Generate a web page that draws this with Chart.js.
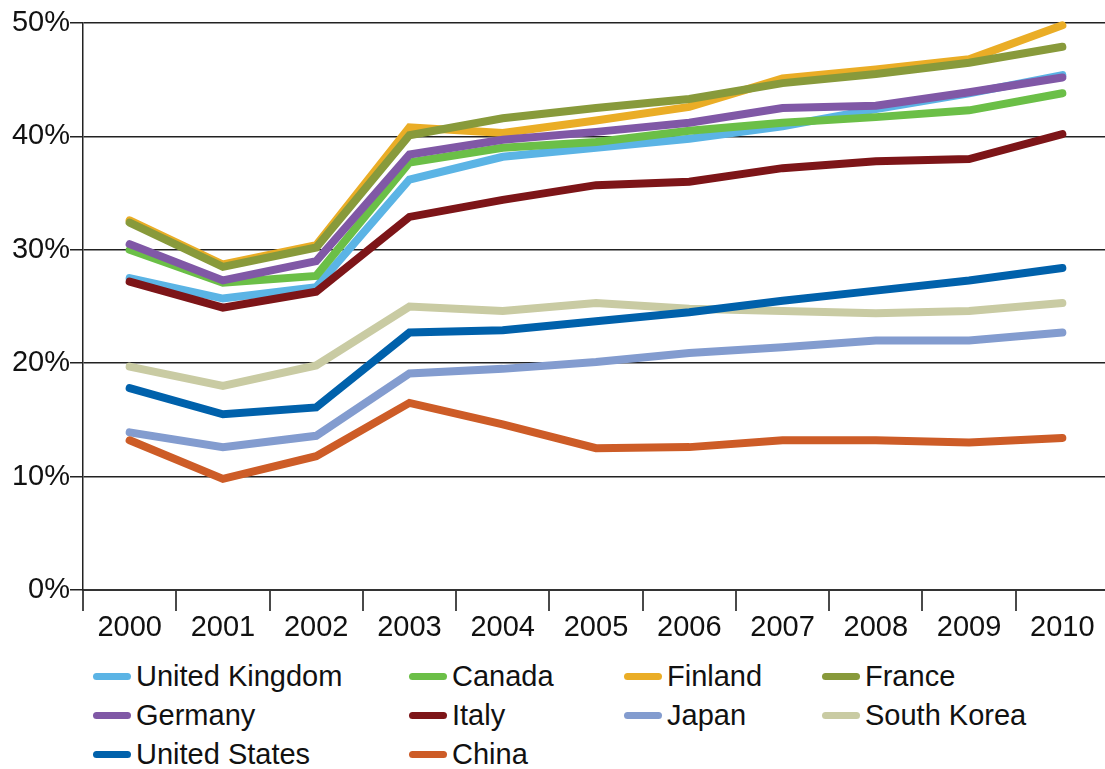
<!DOCTYPE html>
<html>
<head>
<meta charset="utf-8">
<title>Share by country, 2000-2010</title>
<script src="https://cdn.jsdelivr.net/npm/chart.js@4/dist/chart.umd.min.js"></script>
<style>
    html, body {
        margin: 0;
        padding: 0;
        background: #ffffff;
        overflow: hidden;
        font-family: "Liberation Sans", Arial, Helvetica, sans-serif;
    }
    .chart-wrap {
        position: absolute;
        left: 0;
        top: 0;
        width: 1110px;
        height: 650px;
    }
    .chart-legend {
        position: absolute;
        left: 93px;
        top: 657px;
        display: grid;
        grid-template-columns: 316px 215px 198px 220px;
        grid-auto-rows: 39px;
    }
    .legend-item {
        display: flex;
        align-items: center;
        font-size: 29px;
        color: #111111;
        white-space: nowrap;
    }
    .legend-swatch {
        display: inline-block;
        width: 38px;
        height: 7px;
        border-radius: 4px;
        margin-right: 5px;
    }
</style>
</head>
<body>
<div class="chart-wrap">
    <canvas id="shareChart" width="1110" height="650"></canvas>
</div>
<div class="chart-legend" id="chartLegend"></div>

<script>
// Years along the x axis
const years = ['2000', '2001', '2002', '2003', '2004', '2005', '2006', '2007', '2008', '2009', '2010'];

// Values in percent
const unitedKingdom = [27.5, 25.7, 26.7, 36.2, 38.2, 39.0, 39.8, 40.9, 42.4, 43.8, 45.4];
const canada        = [30.0, 27.1, 27.7, 37.7, 39.0, 39.5, 40.5, 41.2, 41.7, 42.3, 43.8];
const finland       = [32.6, 28.7, 30.4, 40.8, 40.3, 41.4, 42.6, 45.1, 45.9, 46.8, 49.8];
const france        = [32.4, 28.5, 30.2, 40.1, 41.6, 42.5, 43.3, 44.7, 45.5, 46.5, 47.9];
const germany       = [30.5, 27.3, 29.0, 38.4, 39.7, 40.4, 41.2, 42.5, 42.7, 43.9, 45.2];
const italy         = [27.2, 24.9, 26.3, 32.9, 34.4, 35.7, 36.0, 37.2, 37.8, 38.0, 40.2];
const japan         = [13.9, 12.6, 13.6, 19.1, 19.5, 20.1, 20.9, 21.4, 22.0, 22.0, 22.7];
const southKorea    = [19.7, 18.0, 19.8, 25.0, 24.6, 25.3, 24.8, 24.6, 24.4, 24.6, 25.3];
const unitedStates  = [17.8, 15.5, 16.1, 22.7, 22.9, 23.7, 24.5, 25.5, 26.4, 27.3, 28.4];
const china         = [13.2, 9.8, 11.8, 16.5, 14.6, 12.5, 12.6, 13.2, 13.2, 13.0, 13.4];

// Y axis ticks
const yTicks = [0, 10, 20, 30, 40, 50];

const seriesNames  = ['United Kingdom', 'Canada', 'Finland', 'France', 'Germany', 'Italy', 'Japan', 'South Korea', 'United States', 'China'];
const seriesValues = [unitedKingdom, canada, finland, france, germany, italy, japan, southKorea, unitedStates, china];
const seriesColors = ['#5bb4e5', '#6bbf47', '#eaad26', '#889a3b', '#8058a6', '#7d1518', '#839ccf', '#c9cba3', '#0061ab', '#cd5c27'];

document.addEventListener('DOMContentLoaded', function() {
    const fontFamily = '"Liberation Sans", Arial, Helvetica, sans-serif';

    // Build one dataset per country; later countries are drawn on top
    const datasets = seriesNames.map((name, i) => ({
        label: name,
        data: seriesValues[i],
        borderColor: seriesColors[i],
        backgroundColor: seriesColors[i],
        borderWidth: 8,
        borderCapStyle: 'round',
        borderJoinStyle: 'miter',
        pointRadius: 0,
        pointHoverRadius: 0,
        tension: 0,
        fill: false,
        clip: false,
        order: seriesNames.length - i
    }));

    const ctx = document.getElementById('shareChart').getContext('2d');
    const chart = new Chart(ctx, {
        type: 'line',
        data: {
            labels: years,
            datasets: datasets
        },
        options: {
            responsive: false,
            animation: false,
            devicePixelRatio: 1,
            layout: {
                padding: { top: 23, right: 1, left: 0, bottom: 0 }
            },
            plugins: {
                legend: { display: false },
                tooltip: { enabled: false }
            },
            scales: {
                x: {
                    offset: true,
                    grid: {
                        offset: true,
                        drawOnChartArea: false,
                        drawTicks: true,
                        tickLength: 21,
                        color: '#4a4a4a',
                        lineWidth: 2
                    },
                    border: { display: true, color: '#333333', width: 2 },
                    ticks: {
                        color: '#111111',
                        padding: 0,
                        maxRotation: 0,
                        font: { family: fontFamily, size: 29 }
                    },
                    afterFit: function(scale) {
                        scale.height = 60;
                    }
                },
                y: {
                    min: 0,
                    max: 50,
                    afterBuildTicks: function(scale) {
                        scale.ticks = yTicks.map(v => ({ value: v }));
                    },
                    grid: {
                        color: '#222222',
                        lineWidth: 1.5,
                        tickLength: 13
                    },
                    border: { display: true, color: '#222222', width: 1.5 },
                    ticks: {
                        color: '#111111',
                        padding: 0,
                        font: { family: fontFamily, size: 29 },
                        callback: function(value) {
                            return value + '%';
                        }
                    },
                    afterFit: function(scale) {
                        scale.width = 83;
                    }
                }
            }
        }
    });

    // Legend built from the chart's own datasets
    const legend = document.getElementById('chartLegend');
    chart.data.datasets.forEach(ds => {
        const item = document.createElement('div');
        item.className = 'legend-item';
        const swatch = document.createElement('span');
        swatch.className = 'legend-swatch';
        swatch.style.background = ds.borderColor;
        const text = document.createElement('span');
        text.textContent = ds.label;
        item.appendChild(swatch);
        item.appendChild(text);
        legend.appendChild(item);
    });
});
</script>
</body>
</html>
